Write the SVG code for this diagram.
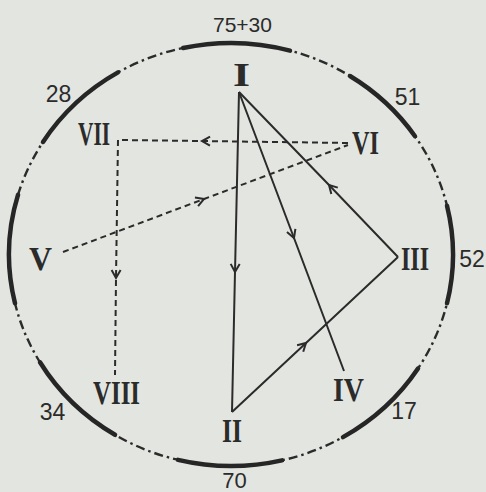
<svg xmlns="http://www.w3.org/2000/svg" width="486" height="492" viewBox="0 0 486 492">
<defs>
<style>
.bg{fill:#e3e5e0}
.ring{fill:none;stroke:#2b2b2b;stroke-width:2.4;stroke-dasharray:9 4 2.5 4}
.arc{fill:none;stroke:#262626;stroke-width:4.5;stroke-linecap:round}
.num{font-family:"Liberation Sans",Arial,sans-serif;font-size:23px;fill:#2b2b2b;text-anchor:middle}
.rom{font-family:"Liberation Serif","Times New Roman",serif;font-size:33px;fill:#2b2b2b;font-weight:bold}
.solid{fill:none;stroke:#2b2b2b;stroke-width:2;marker-mid:url(#arr)}
.dash{fill:none;stroke:#2b2b2b;stroke-width:2;stroke-dasharray:6 4;marker-mid:url(#arr)}
</style>
<marker id="arr" viewBox="-10 -6 12 12" refX="0" refY="0" markerWidth="12" markerHeight="12" markerUnits="userSpaceOnUse" orient="auto" overflow="visible">
<path d="M-8,-4.5 L0,0 L-8,4.5" fill="none" stroke="#2b2b2b" stroke-width="2" stroke-dasharray="none"/>
</marker>
</defs>
<rect class="bg" x="0" y="0" width="486" height="492"/>
<g id="ring">
<ellipse class="ring" cx="231" cy="254.5" rx="222" ry="211.5"/>
<path class="arc" d="M183,48 A222,211.5 0 0 1 290,50.6"/>
<path class="arc" d="M350,76 A222,211.5 0 0 1 415,136.2"/>
<path class="arc" d="M447,205.7 A222,211.5 0 0 1 447,303.3"/>
<path class="arc" d="M418,368.5 A222,211.5 0 0 1 343,437.1"/>
<path class="arc" d="M282,460.4 A222,211.5 0 0 1 178,459.9"/>
<path class="arc" d="M115,434.8 A222,211.5 0 0 1 40,362.3"/>
<path class="arc" d="M15,303.3 A222,211.5 0 0 1 18,194.9"/>
<path class="arc" d="M43,142 A222,211.5 0 0 1 118,72.4"/>
</g>
<g id="labels">
<text class="num" x="242.5" y="32" style="font-size:21px">75+30</text>
<text class="num" x="58.5" y="102">28</text>
<text class="num" x="407.5" y="105">51</text>
<text class="num" x="472" y="267">52</text>
<text class="num" x="52.5" y="420">34</text>
<text class="num" x="404" y="419">17</text>
<text class="num" x="234.5" y="488" style="font-size:22px">70</text>
</g>
<g id="connectors">
<polyline class="solid" points="239,92 235,272 232,412"/>
<polyline class="solid" points="239,92 294,238 344,371"/>
<polyline class="solid" points="398,257 329,185 239,92"/>
<polyline class="solid" points="232,412 306,343 398,257"/>
<polyline class="dash" points="348,143 202,141 118,140"/>
<polyline class="dash" points="118,140 116,278 115,375"/>
<polyline class="dash" points="63,252 204,199 348,145"/>
</g>
<g id="node-I"><text class="rom" x="233" y="86" textLength="17" lengthAdjust="spacingAndGlyphs">I</text></g>
<g id="node-II"><text class="rom" x="222" y="442" textLength="20" lengthAdjust="spacingAndGlyphs">II</text></g>
<g id="node-III"><text class="rom" x="401" y="270" textLength="28" lengthAdjust="spacingAndGlyphs">III</text></g>
<g id="node-IV"><text class="rom" x="333" y="401" textLength="31" lengthAdjust="spacingAndGlyphs">IV</text></g>
<g id="node-V"><text class="rom" x="29" y="270" textLength="23" lengthAdjust="spacingAndGlyphs">V</text></g>
<g id="node-VI"><text class="rom" x="352" y="154" textLength="27" lengthAdjust="spacingAndGlyphs">VI</text></g>
<g id="node-VII"><text class="rom" x="78" y="145" textLength="32" lengthAdjust="spacingAndGlyphs">VII</text></g>
<g id="node-VIII"><text class="rom" x="93" y="404" textLength="47" lengthAdjust="spacingAndGlyphs">VIII</text></g>
</svg>
